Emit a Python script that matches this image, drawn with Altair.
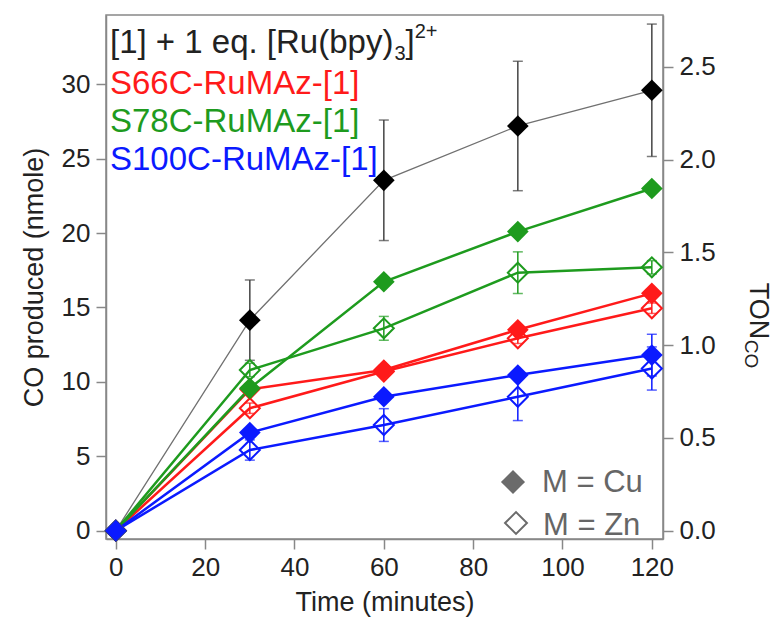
import altair as alt
import pandas as pd

# ---------------- data ----------------
time = [0, 30, 60, 90, 120]

ctrl_co = [0, 14.15, 23.55, 27.2, 29.6]
ctrl_err = [0, 2.7, 4.05, 4.35, 4.45]

s66_cu = [0, 9.5, 10.8, 13.5, 15.95]
s66_cu_err = [0, 0.3, 0.3, 0.3, 0.3]
s66_zn = [0, 8.23, 10.7, 12.93, 14.95]
s66_zn_err = [0, 0.35, 0.3, 0.35, 0.35]

s78_cu = [0, 9.57, 16.73, 20.1, 23.0]
s78_cu_err = [0, 0.3, 0.3, 0.3, 0.3]
s78_zn = [0, 10.8, 13.6, 17.34, 17.7]
s78_zn_err = [0, 0.45, 0.8, 1.4, 0.45]

s100_cu = [0, 6.59, 9.0, 10.46, 11.8]
s100_cu_err = [0, 0.3, 0.3, 0.3, 1.4]
s100_zn = [0, 5.42, 7.1, 9.0, 10.9]
s100_zn_err = [0, 0.68, 1.1, 1.6, 1.45]

series_keys = ["ctrl", "S66C", "S78C", "S100C"]
x_ticks = [0, 20, 40, 60, 80, 100, 120]
y_ticks = [0, 5, 10, 15, 20, 25, 30]
ton_ticks = [0.0, 0.5, 1.0, 1.5, 2.0, 2.5]
NMOLE_PER_TON = 12.47

# ---------------- styles ----------------
RED, GREEN, BLUE = "#FF1A1A", "#1E9B1E", "#0B1AFF"
FONT = "Liberation Sans"
X_DOM = [-2.2, 122.5]
Y_DOM = [-0.56, 34.66]
TON_DOM = [Y_DOM[0] / NMOLE_PER_TON, Y_DOM[1] / NMOLE_PER_TON]

rows = []
groups = [
    ("ctrl", "Cu", ctrl_co, ctrl_err),
    ("S66C", "Zn", s66_zn, s66_zn_err),
    ("S66C", "Cu", s66_cu, s66_cu_err),
    ("S78C", "Zn", s78_zn, s78_zn_err),
    ("S78C", "Cu", s78_cu, s78_cu_err),
    ("S100C", "Zn", s100_zn, s100_zn_err),
    ("S100C", "Cu", s100_cu, s100_cu_err),
]
for k, (s, m, vals, errs) in enumerate(groups):
    for t, v, e in zip(time, vals, errs):
        rows.append({"series": s, "metal": m, "time": t, "co": v, "err": e, "ord": k})
df = pd.DataFrame(rows)

base = alt.Chart(df)
X = alt.X("time:Q", scale=alt.Scale(domain=X_DOM, nice=False, zero=False),
          axis=alt.Axis(values=x_ticks, title="Time (minutes)", labelPadding=5, titlePadding=9))
yscale = alt.Scale(domain=Y_DOM, nice=False, zero=False)
yaxis = alt.Axis(values=y_ticks, title="CO produced (nmole)", orient="left",
                 labelPadding=6, titlePadding=13)

col_scale = alt.Scale(domain=series_keys, range=["#000000", RED, GREEN, BLUE])
err_scale = alt.Scale(domain=series_keys, range=["#444444", RED, GREEN, BLUE])

line_ctrl = base.transform_filter("datum.series == 'ctrl'").mark_line(
    strokeWidth=1.3, color="#707070").encode(X, alt.Y("co:Q", scale=yscale, axis=yaxis), order="time:Q")

lines = base.transform_filter("datum.series != 'ctrl'").mark_line(strokeWidth=2.5).encode(
    X, alt.Y("co:Q", scale=yscale, axis=yaxis),
    color=alt.Color("series:N", scale=col_scale, legend=None),
    detail="metal:N", order="time:Q")

err_base = base.transform_filter("datum.err > 0").transform_calculate(
    lo="datum.co - datum.err", hi="datum.co + datum.err")

err_rules = err_base.mark_rule(strokeWidth=1.5).encode(
    X, alt.Y("lo:Q", scale=yscale, axis=yaxis), y2="hi:Q",
    color=alt.Color("series:N", scale=err_scale, legend=None))

err_caps = err_base.transform_fold(["lo", "hi"], as_=["end", "ey"]).mark_tick(
    orient="horizontal", size=10, thickness=1.5).encode(
    X, alt.Y("ey:Q", scale=yscale, axis=yaxis),
    color=alt.Color("series:N", scale=err_scale, legend=None))

open_pts = base.transform_filter("datum.metal == 'Zn'").mark_point(
    shape="diamond", filled=False, size=400, strokeWidth=2, opacity=1).encode(
    X, alt.Y("co:Q", scale=yscale, axis=yaxis),
    color=alt.Color("series:N", scale=col_scale, legend=None), order="ord:Q")

filled_pts = base.transform_filter("datum.metal != 'Zn'").mark_point(
    shape="diamond", filled=True, size=470, opacity=1).encode(
    X, alt.Y("co:Q", scale=yscale, axis=yaxis),
    color=alt.Color("series:N", scale=col_scale, legend=None), order="ord:Q")

inner = alt.layer(line_ctrl, lines, err_rules, err_caps, open_pts, filled_pts).resolve_scale(
    color="independent")

ton_layer = base.transform_calculate(ton=f"datum.co / {NMOLE_PER_TON}").mark_point(opacity=0).encode(
    X, alt.Y("ton:Q", scale=alt.Scale(domain=TON_DOM, nice=False, zero=False),
             axis=alt.Axis(orient="right", values=ton_ticks, format=".1f", title=None, labelPadding=6)))

one = pd.DataFrame({"a": [0]})


def txt(text, x, y, size, color, angle=0, align="left", baseline="alphabetic"):
    return alt.Chart(one).mark_text(text=text, font=FONT, fontSize=size, color=color,
                                    angle=angle, align=align, baseline=baseline).encode(
        x=alt.value(x), y=alt.value(y))


def sym(x, y, filled, size):
    return alt.Chart(one).mark_point(shape="diamond", filled=filled, size=size,
                                     color="#6b6b6b", strokeWidth=2, opacity=1).encode(
        x=alt.value(x), y=alt.value(y))


LS = 33
x0 = 4
w_main = 8.588 * LS
annots = [
    txt("[1] + 1 eq. [Ru(bpy)", x0, 38.3, LS, "#222222"),
    txt("3", x0 + w_main + 1, 45, 20, "#222222"),
    txt("]", x0 + w_main + 1 + 11.1, 38.3, LS, "#222222"),
    txt("2+", x0 + w_main + 1 + 11.1 + 0.278 * LS, 23, 20, "#222222"),
    txt("S66C-RuMAz-[1]", x0, 79, LS, RED),
    txt("S78C-RuMAz-[1]", x0, 117, LS, GREEN),
    txt("S100C-RuMAz-[1]", x0, 155, LS, BLUE),
    sym(407, 467, True, 580),
    sym(410, 508, False, 480),
    txt("M = Cu", 436, 468, 31, "#666666", baseline="middle"),
    txt("M = Zn", 437, 511, 31, "#666666", baseline="middle"),
    txt("TON", 652, 296, 27, "#222222", angle=90, align="center", baseline="middle"),
    txt("CO", 645, 339, 19, "#222222", angle=90, align="center", baseline="middle"),
]

chart = alt.layer(inner, ton_layer, *annots).resolve_scale(y="independent").properties(
    width=557, height=524,
    padding={"left": 98, "top": 7, "right": 110, "bottom": 82},
    autosize=alt.AutoSizeParams(type="none"),
).configure_view(stroke="#888888", strokeWidth=1.5).configure_axis(
    labelFont=FONT, titleFont=FONT, labelFontSize=26, titleFontSize=27,
    titleFontWeight="normal", labelColor="#222222", titleColor="#222222",
    domainColor="#888888", tickColor="#888888", domainWidth=1.5, tickWidth=1.5,
    tickSize=10, grid=False)

chart.save("out.html", embed_options={"renderer": "svg", "actions": False})
